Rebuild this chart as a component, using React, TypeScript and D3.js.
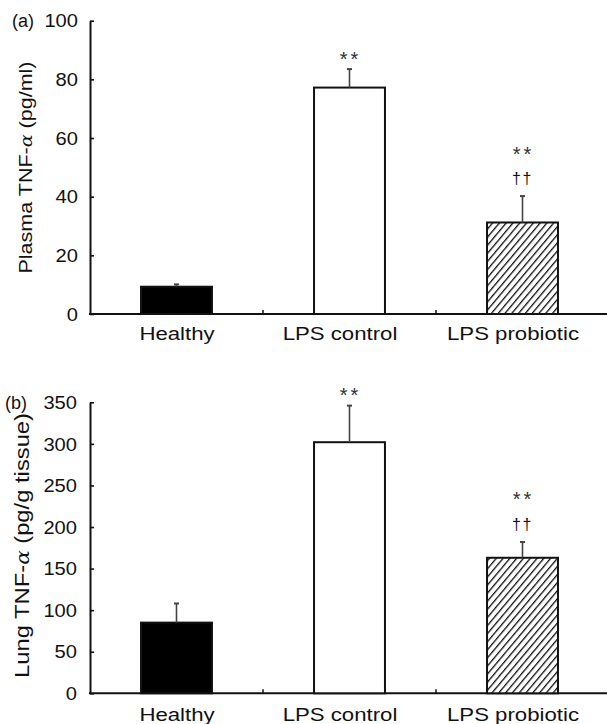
import React, { useEffect, useRef } from 'react';
import * as d3 from 'd3';

// group labels shared by both panels
const categories = ['Healthy', 'LPS control', 'LPS probiotic'];

// (a) plasma TNF-alpha, pg/ml (mean and SEM)
const plasmaMeans = [9.3, 77.2, 31.2];
const plasmaSem = [0.8, 6.3, 9.0];
const plasmaTicks = [0, 20, 40, 60, 80, 100];

// (b) lung TNF-alpha, pg/g tissue (mean and SEM)
const lungMeans = [85, 302, 163];
const lungSem = [23, 44, 19];
const lungTicks = [0, 50, 100, 150, 200, 250, 300, 350];

// significance marks above each bar
const starMarks = ['', '**', '**'];
const daggerMarks = ['', '', '††'];

const WIDTH = 607;
const HEIGHT = 724;
const FONT = '"Liberation Sans", Arial, Helvetica, sans-serif';

const panels = [
  {
    tag: '(a)', tagX: 12, titleA: 'Plasma TNF-', titleB: ' (pg/ml)',
    titleLen: 212, titleX: 32, titleY: 167.5, titleSize: 18.5, tickRight: 78,
    means: plasmaMeans, sem: plasmaSem, ticks: plasmaTicks, max: 100,
    top: 20.7, bottom: 314, labelY: 339.5,
  },
  {
    tag: '(b)', tagX: 5, titleA: 'Lung  TNF-', titleB: ' (pg/g tissue)',
    titleLen: 265, titleX: 29, titleY: 545.5, titleSize: 20.5, tickRight: 77,
    means: lungMeans, sem: lungSem, ticks: lungTicks, max: 350,
    top: 402.3, bottom: 693.3, labelY: 721,
  },
];

const fills = ['#000', '#fff', 'url(#hatch)'];

export default function App() {
  const ref = useRef<SVGSVGElement>(null);

  useEffect(() => {
    const svg = d3.select(ref.current);
    svg.selectAll('*').remove();

    const defs = svg.append('defs');
    const pat = defs.append('pattern')
      .attr('id', 'hatch')
      .attr('patternUnits', 'userSpaceOnUse')
      .attr('width', 5.2)
      .attr('height', 5.2)
      .attr('patternTransform', 'rotate(40)');
    pat.append('rect').attr('width', 5.2).attr('height', 5.2).attr('fill', '#fff');
    pat.append('line')
      .attr('x1', 0).attr('y1', 0).attr('x2', 0).attr('y2', 5.2)
      .attr('stroke', '#111').attr('stroke-width', 2.6);

    const x = d3.scaleBand<string>()
      .domain(categories)
      .range([90, 609])
      .paddingInner(0)
      .paddingOuter(0);
    const barW = x.bandwidth() * 0.41;

    panels.forEach((p) => {
      const g = svg.append('g').style('font-family', FONT).attr('fill', '#111');
      const y = d3.scaleLinear().domain([0, p.max]).range([p.bottom, p.top]);

      // y axis, ticks pointing inward, labels drawn below by hand
      const yAxis = g.append('g')
        .attr('transform', 'translate(90,0)')
        .call(d3.axisLeft(y).tickValues(p.ticks).tickSizeInner(-4).tickSizeOuter(0).tickFormat(() => ''));
      yAxis.select('.domain').attr('stroke', '#111').attr('stroke-width', 2);
      yAxis.selectAll('.tick line').attr('stroke', '#111').attr('stroke-width', 1.6);

      g.selectAll('.ylab')
        .data(p.ticks)
        .enter()
        .append('text')
          .attr('x', p.tickRight)
          .attr('y', (d) => y(d))
          .attr('dy', '0.36em')
          .attr('text-anchor', 'end')
          .attr('textLength', (d) => String(d).length * 11.2)
          .attr('lengthAdjust', 'spacingAndGlyphs')
          .style('font-size', '18.5px')
          .text((d) => d);

      // x axis
      g.append('line')
        .attr('x1', 89).attr('x2', 609)
        .attr('y1', y(0)).attr('y2', y(0))
        .attr('stroke', '#111').attr('stroke-width', 2);
      g.selectAll('.xtick')
        .data(categories.slice(1))
        .enter()
        .append('line')
          .attr('x1', (d) => x(d)!).attr('x2', (d) => x(d)!)
          .attr('y1', y(0)).attr('y2', y(0) - 4)
          .attr('stroke', '#111').attr('stroke-width', 1.5);

      // bars
      g.selectAll('.bar')
        .data(categories)
        .enter()
        .append('rect')
          .attr('x', (d) => x(d)! + x.bandwidth() / 2 - barW / 2)
          .attr('y', (d, i) => y(p.means[i]))
          .attr('width', barW)
          .attr('height', (d, i) => y(0) - y(p.means[i]))
          .attr('fill', (d, i) => fills[i])
          .attr('stroke', '#111')
          .attr('stroke-width', 2);

      // upper error bars and significance marks
      categories.forEach((c, i) => {
        const cx = x(c)! + x.bandwidth() / 2;
        const yTop = y(p.means[i] + p.sem[i]);
        g.append('line')
          .attr('x1', cx).attr('x2', cx)
          .attr('y1', y(p.means[i])).attr('y2', yTop)
          .attr('stroke', '#444').attr('stroke-width', 1.6);
        g.append('line')
          .attr('x1', cx - 2.5).attr('x2', cx + 2.5)
          .attr('y1', yTop).attr('y2', yTop)
          .attr('stroke', '#444').attr('stroke-width', 2);

        let markY = yTop - 15;
        if (daggerMarks[i]) {
          markY = yTop - 17;
          g.append('text')
            .attr('x', cx)
            .attr('y', markY + 4.6)
            .attr('text-anchor', 'middle')
            .attr('letter-spacing', 1.5)
            .style('font-size', '16px')
            .text(daggerMarks[i]);
          markY -= 30;
        }
        if (starMarks[i]) {
          g.append('text')
            .attr('x', cx + 1)
            .attr('y', markY + 11.5)
            .attr('text-anchor', 'middle')
            .attr('letter-spacing', 3)
            .attr('fill', '#333')
            .style('font-size', '20px')
            .text(starMarks[i]);
        }
      });

      // category labels
      g.selectAll('.cat')
        .data(categories)
        .enter()
        .append('text')
          .attr('transform', (d, i) =>
            `translate(${x(d)! + x.bandwidth() / 2 + (i === 0 ? 0.5 : -9.5)},${p.labelY}) scale(1.2,1)`)
          .attr('text-anchor', 'middle')
          .style('font-size', '18.5px')
          .text((d) => d);

      // panel tag
      g.append('text')
        .attr('x', p.tagX)
        .attr('y', y(p.max) + 6.5)
        .style('font-size', '18px')
        .text(p.tag);

      // y title
      const title = g.append('text')
        .attr('transform', `translate(${p.titleX},${p.titleY}) rotate(-90)`)
        .attr('text-anchor', 'middle')
        .attr('textLength', p.titleLen)
        .attr('lengthAdjust', 'spacingAndGlyphs')
        .style('font-size', `${p.titleSize}px`);
      title.append('tspan').text(p.titleA);
      title.append('tspan')
        .style('font-family', '"DejaVu Serif", serif')
        .style('font-style', 'italic')
        .style('font-size', `${p.titleSize - 2}px`)
        .text('α');
      title.append('tspan').text(p.titleB);
    });
  }, []);

  return (
    <svg
      ref={ref}
      width={WIDTH}
      height={HEIGHT}
      style={{ position: 'absolute', left: 0, top: 0, background: '#fff' }}
    />
  );
}
